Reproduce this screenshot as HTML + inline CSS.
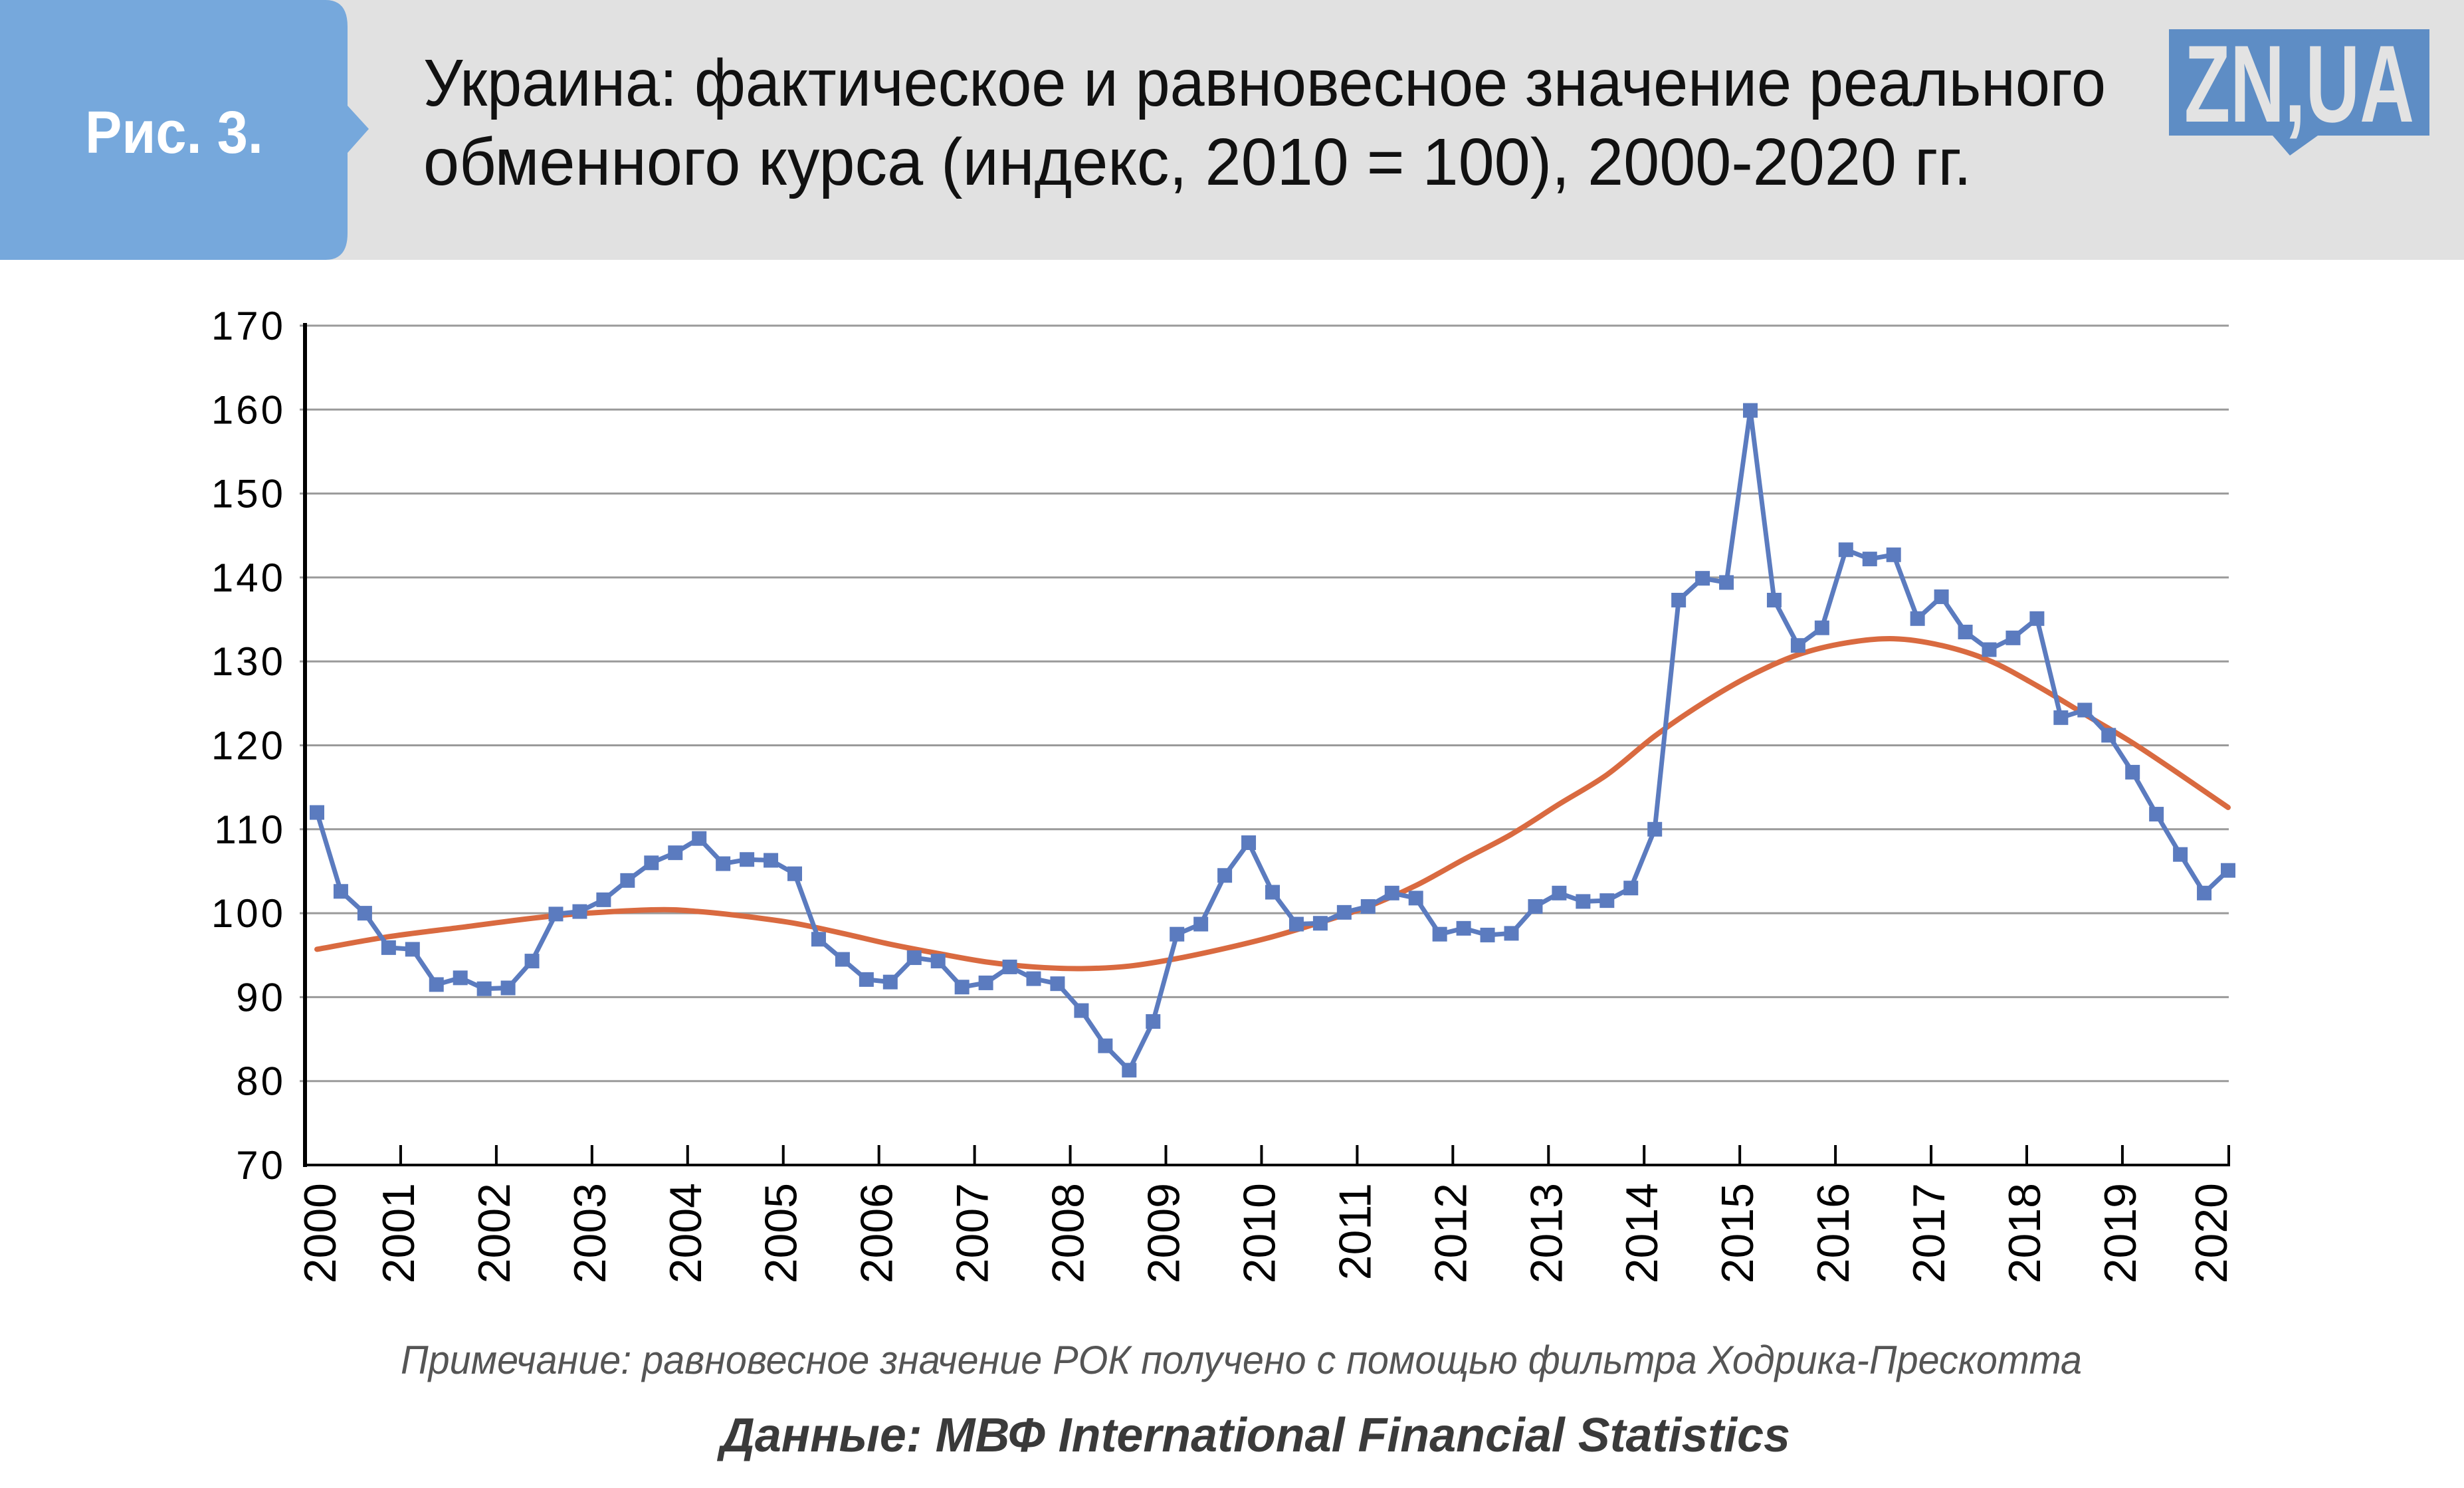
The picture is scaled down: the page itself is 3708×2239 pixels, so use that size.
<!DOCTYPE html>
<html><head><meta charset="utf-8"><style>
html,body{margin:0;padding:0;background:#fff;}
svg{display:block;}
</style></head><body>
<svg id="chart" width="3708" height="2239" viewBox="0 0 3708 2239" xmlns="http://www.w3.org/2000/svg">
  <rect x="0" y="0" width="3708" height="391" fill="#e1e1e1"/>
  <path d="M0 0 H490 Q523 0 523 40 V159 L555 194 L523 230 V351 Q523 391 490 391 H0 Z" fill="#76a8dc"/>
  <text x="262" y="230" text-anchor="middle" font-family="Liberation Sans, sans-serif" font-weight="bold" font-size="90" fill="#fff" textLength="268" lengthAdjust="spacingAndGlyphs">Рис. 3.</text>
  <text x="637" y="159" font-family="Liberation Sans, sans-serif" font-size="100" fill="#111" textLength="2532" lengthAdjust="spacingAndGlyphs">Украина: фактическое и равновесное значение реального</text>
  <text x="637" y="278" font-family="Liberation Sans, sans-serif" font-size="100" fill="#111" textLength="2330" lengthAdjust="spacingAndGlyphs">обменного курса (индекс, 2010 = 100), 2000-2020 гг.</text>
  <g>
    <path d="M3264 44 H3656 V204 H3488 L3446 234 L3420 204 H3264 Z" fill="#5e8dc5"/>
    <text x="3460" y="183" text-anchor="middle" font-family="Liberation Sans, sans-serif" font-weight="bold" font-size="165" fill="#e3e3e3" textLength="346" lengthAdjust="spacingAndGlyphs">ZN,UA</text>
  </g>
  <g id="plot"></g>
  <text x="1868" y="2067" text-anchor="middle" font-family="Liberation Sans, sans-serif" font-style="italic" font-size="60" fill="#555" textLength="2530" lengthAdjust="spacingAndGlyphs">Примечание: равновесное значение РОК получено с помощью фильтра Ходрика-Прескотта</text>
  <text x="1889" y="2184" text-anchor="middle" font-family="Liberation Sans, sans-serif" font-style="italic" font-weight="bold" font-size="72" fill="#3a3a3a" textLength="1610" lengthAdjust="spacingAndGlyphs">Данные: МВФ International Financial Statistics</text>
</svg>
<script>
const yTicks = [70,80,90,100,110,120,130,140,150,160,170];
const yearLabels = ["2000","2001","2002","2003","2004","2005","2006","2007","2008","2009","2010","2011","2012","2013","2014","2015","2016","2017","2018","2019","2020"];
const actual = [112.0,102.6,100.0,95.9,95.7,91.5,92.3,91.0,91.1,94.3,99.9,100.2,101.6,103.9,106.0,107.2,108.9,105.9,106.4,106.3,104.7,96.9,94.5,92.1,91.8,94.7,94.3,91.2,91.7,93.6,92.2,91.6,88.4,84.2,81.3,87.1,97.5,98.7,104.5,108.4,102.5,98.7,98.8,100.1,100.8,102.4,101.8,97.5,98.2,97.4,97.6,100.8,102.4,101.4,101.5,103.0,110.0,137.3,139.9,139.4,159.9,137.3,131.9,134.0,143.3,142.2,142.7,135.1,137.7,133.5,131.4,132.8,135.1,123.3,124.2,121.2,116.8,111.8,107.0,102.4,105.1];
const trendIdx = [0,3,6,10,14,16,18,20,22,24,26,28,30,32,34,36,38,40,42,44,46,48,50,52,54,56,58,60,62,64,66,68,70,72,74,76,78,80];
const trend = [95.7,97.2,98.3,99.7,100.4,100.2,99.6,98.8,97.6,96.3,95.2,94.2,93.6,93.4,93.7,94.6,95.8,97.2,98.9,100.8,103.3,106.4,109.4,113.0,116.5,121.1,125.0,128.3,130.8,132.2,132.7,131.9,130.1,127.1,123.7,120.3,116.5,112.6];

const NS="http://www.w3.org/2000/svg";
const L=459, R=3354, T=490, B=1753, YMIN=70, YMAX=170;
const x = i => 477 + i*(3353-477)/80;
const y = v => B - (v-YMIN)*(B-T)/(YMAX-YMIN);
const plot=document.getElementById('plot');
function mk(tag, attrs){const e=document.createElementNS(NS,tag);for(const k in attrs)e.setAttribute(k,attrs[k]);plot.appendChild(e);return e;}

yTicks.forEach(v=>{
  if(v>YMIN){
    const g=mk('line',{x1:L-8,x2:R,y1:y(v),y2:y(v),stroke:'#9a9a9a','stroke-width':3});
    
    
  }
  const t=mk('text',{x:430,y:y(v)+21,'text-anchor':'end','font-family':'Liberation Sans, sans-serif','font-size':60,fill:'#000','letter-spacing':4});
  t.textContent=v;
  
  
});
const ax=mk('line',{x1:L,x2:L,y1:T-4,y2:B+3,stroke:'#000','stroke-width':6});


const bx=mk('line',{x1:L-3,x2:R+2,y1:B,y2:B,stroke:'#000','stroke-width':4});


const tickStep=(3194-603)/18;
yearLabels.forEach((lab,k)=>{
  const tx = k===20 ? R : L + k*tickStep;
  if(k>0){
    const tk=mk('line',{x1:tx,x2:tx,y1:B-30,y2:B,stroke:'#000','stroke-width':4});
    
    
  }
  let lx = k===0 ? 481 : (k===20 ? 3327 : tx - 4);
  const t=mk('text',{x:0,y:0,transform:'translate('+(lx+24)+','+1780+') rotate(-90)','text-anchor':'end','font-family':'Liberation Sans, sans-serif','font-size':68,fill:'#000'});
  t.textContent=lab;
  
  
});

const tp=trendIdx.map((i,j)=>[x(i),y(trend[j])]);
let d='M'+tp[0][0]+' '+tp[0][1];
for(let i=0;i<tp.length-1;i++){
  const p0=tp[Math.max(0,i-1)],p1=tp[i],p2=tp[i+1],p3=tp[Math.min(tp.length-1,i+2)];
  d+=' C'+(p1[0]+(p2[0]-p0[0])/6)+' '+(p1[1]+(p2[1]-p0[1])/6)+' '+(p2[0]-(p3[0]-p1[0])/6)+' '+(p2[1]-(p3[1]-p1[1])/6)+' '+p2[0]+' '+p2[1];
}
const tr=mk('path',{d:d,fill:'none',stroke:'#d96a40','stroke-width':8,'stroke-linecap':'round'});



const al=mk('polyline',{points:actual.map((v,i)=>x(i)+','+y(v)).join(' '),fill:'none',stroke:'#5b7bbf','stroke-width':7,'stroke-linejoin':'round'});


actual.forEach((v,i)=>{
  const m=mk('rect',{x:x(i)-11,y:y(v)-11,width:22,height:22,fill:'#5b7bbf'});
  
  
});
</script>
</body></html>
